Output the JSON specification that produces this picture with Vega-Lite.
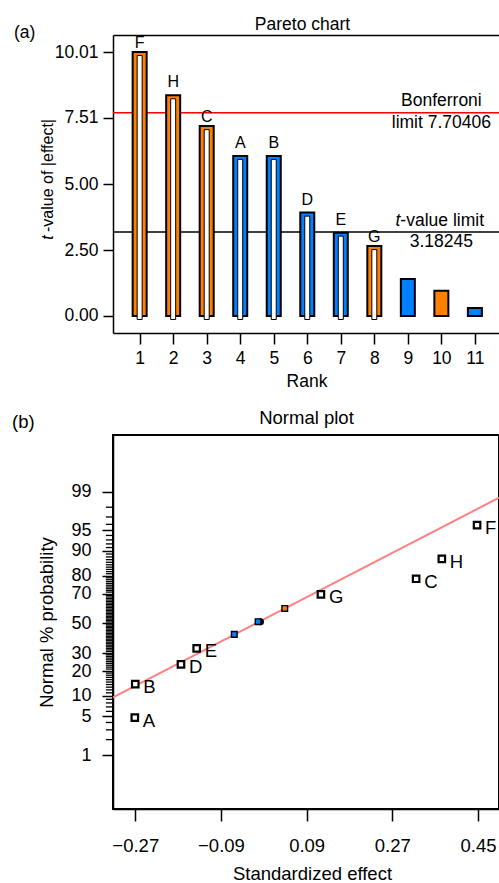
{
  "$schema": "https://vega.github.io/schema/vega-lite/v6.json",
  "padding": {"left": 11, "top": 15, "right": 0, "bottom": 0},
  "spacing": 17,
  "config": {
    "font": "Liberation Sans",
    "view": {"stroke": null},
    "axis": {"grid": false, "domainColor": "black", "domainWidth": 1.5, "tickColor": "black", "tickWidth": 1.5, "labelColor": "black", "titleColor": "black", "labelFontSize": 17.5, "titleFontSize": 17.5, "titleFontWeight": "normal", "labelFont": "Liberation Sans", "titleFont": "Liberation Sans"},
    "title": {"fontSize": 17.5, "fontWeight": "normal", "font": "Liberation Sans", "color": "black"},
    "text": {"font": "Liberation Sans", "fontSize": 17.5, "color": "black"}
  },
  "datasets": {
    "bars": [
      {"rank": 1, "t": 10.01, "label": "F", "sign": "pos"},
      {"rank": 2, "t": 8.37, "label": "H", "sign": "pos"},
      {"rank": 3, "t": 7.20, "label": "C", "sign": "pos"},
      {"rank": 4, "t": 6.07, "label": "A", "sign": "neg"},
      {"rank": 5, "t": 6.07, "label": "B", "sign": "neg"},
      {"rank": 6, "t": 3.92, "label": "D", "sign": "neg"},
      {"rank": 7, "t": 3.16, "label": "E", "sign": "neg"},
      {"rank": 8, "t": 2.65, "label": "G", "sign": "pos"},
      {"rank": 9, "t": 1.40, "label": "", "sign": "neg"},
      {"rank": 10, "t": 0.96, "label": "", "sign": "pos"},
      {"rank": 11, "t": 0.30, "label": "", "sign": "neg"}
    ],
    "limits": [
      {"name": "Bonferroni", "value": 7.70406, "prefix": "", "above": "Bonferroni", "below": "limit 7.70406"},
      {"name": "t-value limit", "value": 3.18245, "prefix": "t", "above": "-value limit", "below": "3.18245"}
    ],
    "points": [
      {"label": "A", "effect": -0.271, "z": -1.666, "sign": "neg"},
      {"label": "B", "effect": -0.270, "z": -1.072, "sign": "neg"},
      {"label": "D", "effect": -0.174, "z": -0.724, "sign": "neg"},
      {"label": "E", "effect": -0.141, "z": -0.442, "sign": "neg"},
      {"label": "", "effect": -0.062, "z": -0.194, "sign": "neg"},
      {"label": "", "effect": -0.012, "z": 0.030, "sign": "neg"},
      {"label": "", "effect": 0.044, "z": 0.265, "sign": "pos"},
      {"label": "G", "effect": 0.120, "z": 0.512, "sign": "pos"},
      {"label": "C", "effect": 0.320, "z": 0.789, "sign": "pos"},
      {"label": "H", "effect": 0.374, "z": 1.142, "sign": "pos"},
      {"label": "F", "effect": 0.448, "z": 1.737, "sign": "pos"}
    ],
    "center": [{"effect": -0.007, "z": 0.03}],
    "fit": [
      {"effect": -0.3168, "z": -1.307},
      {"effect": 0.4941, "z": 2.221}
    ],
    "minorticks": [
      {"z": -2.0537}, {"z": -1.8808}, {"z": -1.7507}, {"z": -1.5548}, {"z": -1.4758}, {"z": -1.4051}, {"z": -1.3408},
      {"z": -1.2265}, {"z": -1.175}, {"z": -1.1264}, {"z": -1.0803}, {"z": -1.0364}, {"z": -0.9945}, {"z": -0.9542}, {"z": -0.9154}, {"z": -0.8779},
      {"z": -0.8064}, {"z": -0.7722}, {"z": -0.7388}, {"z": -0.7063}, {"z": -0.6745}, {"z": -0.6433}, {"z": -0.6128}, {"z": -0.5828}, {"z": -0.5534},
      {"z": -0.4959}, {"z": -0.4677}, {"z": -0.4399}, {"z": -0.4125}, {"z": -0.3853}, {"z": -0.3585}, {"z": -0.3319}, {"z": -0.3055}, {"z": -0.2793},
      {"z": -0.2533}, {"z": -0.2275}, {"z": -0.2019}, {"z": -0.1764}, {"z": -0.151}, {"z": -0.1257}, {"z": -0.1004}, {"z": -0.0753}, {"z": -0.0502}, {"z": -0.0251},
      {"z": 0.0251}, {"z": 0.0502}, {"z": 0.0753}, {"z": 0.1004}, {"z": 0.1257}, {"z": 0.151}, {"z": 0.1764}, {"z": 0.2019}, {"z": 0.2275}, {"z": 0.2533},
      {"z": 0.2793}, {"z": 0.3055}, {"z": 0.3319}, {"z": 0.3585}, {"z": 0.3853}, {"z": 0.4125}, {"z": 0.4399}, {"z": 0.4677}, {"z": 0.4959},
      {"z": 0.5534}, {"z": 0.5828}, {"z": 0.6128}, {"z": 0.6433}, {"z": 0.6745}, {"z": 0.7063}, {"z": 0.7388}, {"z": 0.7722}, {"z": 0.8064},
      {"z": 0.8779}, {"z": 0.9154}, {"z": 0.9542}, {"z": 0.9945}, {"z": 1.0364}, {"z": 1.0803}, {"z": 1.1264}, {"z": 1.175}, {"z": 1.2265},
      {"z": 1.3408}, {"z": 1.4051}, {"z": 1.4758}, {"z": 1.5548}, {"z": 1.7507}, {"z": 1.8808}, {"z": 2.0537}
    ]
  },
  "vconcat": [
    {
      "title": {"text": "(a)", "anchor": "start", "frame": "bounds", "dx": -25, "dy": 30, "fontSize": 17.5},
      "width": 387,
      "height": 298,
      "resolve": {"axis": {"x": "independent", "y": "independent"}},
      "layer": [
        {
          "data": {"name": "limits"},
          "mark": {"type": "rule", "strokeWidth": 1.5},
          "encoding": {
            "y": {"field": "value", "type": "quantitative", "scale": {"domain": [-0.645, 10.655], "nice": false, "zero": false}, "axis": null},
            "stroke": {"field": "name", "type": "nominal", "scale": {"domain": ["Bonferroni", "t-value limit"], "range": ["#FF0000", "#000000"]}, "legend": null}
          }
        },
        {
          "data": {"name": "bars"},
          "mark": {"type": "bar", "width": 14, "stroke": "black", "strokeWidth": 2},
          "encoding": {
            "x": {"field": "rank", "type": "quantitative", "scale": {"domain": [0.354, 11.6], "nice": false, "zero": false},
                  "axis": {"orient": "bottom", "values": [1, 2, 3, 4, 5, 6, 7, 8, 9, 10, 11], "format": "d", "labelOverlap": false, "tickSize": 11, "labelPadding": 5, "title": "Rank", "titlePadding": 6}},
            "y": {"field": "t", "type": "quantitative", "scale": {"domain": [-0.645, 10.655], "nice": false, "zero": false},
                  "axis": {"orient": "left", "values": [0, 2.5, 5, 7.51, 10.01], "format": ".2f", "tickSize": 10, "labelPadding": 5, "title": "-value of |effect|", "titleFontSize": 16, "titleX": -66, "titleY": 140, "titleBaseline": "middle"}},
            "fill": {"field": "sign", "type": "nominal", "scale": {"domain": ["pos", "neg"], "range": ["#FF8000", "#0080FF"]}, "legend": null}
          }
        },
        {
          "data": {"name": "bars"},
          "transform": [{"filter": "datum.label != ''"}],
          "mark": {"type": "bar", "width": 5, "fill": "white", "stroke": "black", "strokeWidth": 1, "yOffset": 3.5, "y2Offset": -3.5},
          "encoding": {
            "x": {"field": "rank", "type": "quantitative", "scale": {"domain": [0.354, 11.6], "nice": false, "zero": false}, "axis": null},
            "y": {"field": "t", "type": "quantitative", "scale": {"domain": [-0.645, 10.655], "nice": false, "zero": false},
                  "axis": {"orient": "left", "title": "t", "titleFontStyle": "italic", "titleFontSize": 16, "titleX": -66, "titleY": 202, "titleBaseline": "middle", "labels": false, "ticks": false, "domain": false}}
          }
        },
        {
          "data": {"name": "bars"},
          "transform": [{"filter": "indexof(['H','A','B','D','E'], datum.label) >= 0"}],
          "mark": {"type": "text", "dy": -8, "baseline": "alphabetic", "align": "center", "fontSize": 16},
          "encoding": {
            "x": {"field": "rank", "type": "quantitative", "scale": {"domain": [0.354, 11.6], "nice": false, "zero": false},
                  "axis": {"orient": "top", "domain": true, "ticks": false, "labels": false, "title": "Pareto chart", "titlePadding": 6, "titleBaseline": "alphabetic", "titleX": 189}},
            "y": {"field": "t", "type": "quantitative", "scale": {"domain": [-0.645, 10.655], "nice": false, "zero": false}, "axis": null},
            "text": {"field": "label"}
          }
        },
        {
          "data": {"name": "bars"},
          "transform": [{"filter": "indexof(['F','C','G'], datum.label) >= 0"}],
          "mark": {"type": "text", "dy": -4, "baseline": "alphabetic", "align": "center", "fontSize": 16},
          "encoding": {
            "x": {"field": "rank", "type": "quantitative", "scale": {"domain": [0.354, 11.6], "nice": false, "zero": false}, "axis": null},
            "y": {"field": "t", "type": "quantitative", "scale": {"domain": [-0.645, 10.655], "nice": false, "zero": false}, "axis": null},
            "text": {"field": "label"}
          }
        },
        {
          "data": {"name": "limits"},
          "transform": [{"filter": "datum.name == 'Bonferroni'"}],
          "mark": {"type": "text", "dy": -7, "baseline": "alphabetic", "align": "center"},
          "encoding": {
            "x": {"datum": 10, "type": "quantitative", "axis": null},
            "y": {"field": "value", "type": "quantitative", "axis": null},
            "text": {"field": "above"}
          }
        },
        {
          "data": {"name": "limits"},
          "mark": {"type": "text", "dy": 15, "baseline": "alphabetic", "align": "center"},
          "encoding": {
            "x": {"datum": 10, "type": "quantitative", "axis": null},
            "y": {"field": "value", "type": "quantitative", "axis": null},
            "text": {"field": "below"}
          }
        },
        {
          "data": {"name": "limits"},
          "transform": [{"filter": "datum.name == 't-value limit'"}],
          "mark": {"type": "text", "dy": -6, "dx": -41, "baseline": "alphabetic", "align": "left"},
          "encoding": {
            "x": {"datum": 10, "type": "quantitative", "axis": null},
            "y": {"field": "value", "type": "quantitative", "axis": null},
            "text": {"field": "above"}
          }
        },
        {
          "data": {"name": "limits"},
          "transform": [{"filter": "datum.name == 't-value limit'"}],
          "mark": {"type": "text", "dy": -6, "dx": -41, "baseline": "alphabetic", "align": "right", "fontStyle": "italic"},
          "encoding": {
            "x": {"datum": 10, "type": "quantitative", "axis": null},
            "y": {"field": "value", "type": "quantitative", "axis": null},
            "text": {"field": "prefix"}
          }
        }
      ]
    },
    {
      "title": {"text": "(b)", "anchor": "start", "frame": "bounds", "dx": -25, "dy": 27, "fontSize": 18.5},
      "width": 386,
      "height": 374,
      "view": {"stroke": "black", "strokeWidth": 2},
      "resolve": {"axis": {"x": "independent", "y": "independent"}},
      "layer": [
        {
          "data": {"name": "fit"},
          "mark": {"type": "line", "color": "#FF8080", "strokeWidth": 2, "clip": true},
          "encoding": {
            "x": {"field": "effect", "type": "quantitative", "scale": {"domain": [-0.3168, 0.4941], "nice": false, "zero": false},
                  "axis": {"orient": "bottom", "values": [-0.27, -0.09, 0.09, 0.27, 0.45], "format": ".2f", "tickSize": 12, "labelPadding": 15, "labelFontSize": 18.5, "title": "Standardized effect", "titleFontSize": 18.5, "titlePadding": 10, "titleX": 199}},
            "y": {"field": "z", "type": "quantitative", "scale": {"domain": [-3.28, 3.33], "nice": false, "zero": false},
                  "axis": {"orient": "left", "values": [-2.3263, -1.6449, -1.2816, -0.8416, -0.5244, 0, 0.5244, 0.8416, 1.2816, 1.6449, 2.3263],
                           "labelExpr": "datum.value < -2 ? '1' : datum.value < -1.5 ? '5' : datum.value < -1 ? '10' : datum.value < -0.7 ? '20' : datum.value < -0.4 ? '30' : datum.value < 0.3 ? '50' : datum.value < 0.6 ? '70' : datum.value < 1 ? '80' : datum.value < 1.5 ? '90' : datum.value < 2 ? '95' : '99'",
                           "labelOverlap": false, "labelBound": false, "tickSize": 11, "labelPadding": 11, "labelFontSize": 18, "title": "Normal % probability", "titleFontSize": 18.5, "titleX": -67, "titleBaseline": "middle"}}
          }
        },
        {
          "data": {"name": "minorticks"},
          "mark": {"type": "rule", "color": "#000000", "strokeWidth": 1.3, "opacity": 1, "clip": false},
          "encoding": {
            "x": {"datum": -0.3318, "type": "quantitative", "axis": null},
            "x2": {"datum": -0.3168},
            "y": {"field": "z", "type": "quantitative", "axis": null}
          }
        },
        {
          "data": {"name": "center"},
          "mark": {"type": "point", "shape": "circle", "filled": true, "fill": "black", "size": 50, "opacity": 1},
          "encoding": {
            "x": {"field": "effect", "type": "quantitative", "axis": null},
            "y": {"field": "z", "type": "quantitative", "axis": null}
          }
        },
        {
          "data": {"name": "points"},
          "transform": [{"filter": "datum.label != ''"}],
          "mark": {"type": "point", "shape": "square", "filled": true, "fill": "white", "stroke": "black", "strokeWidth": 2.2, "size": 42, "opacity": 1},
          "encoding": {
            "x": {"field": "effect", "type": "quantitative",
                  "axis": {"orient": "top", "domain": false, "ticks": false, "labels": false, "title": "Normal plot", "titleFontSize": 18.5, "titlePadding": 12, "titleBaseline": "alphabetic"}},
            "y": {"field": "z", "type": "quantitative", "axis": null}
          }
        },
        {
          "data": {"name": "points"},
          "transform": [{"filter": "datum.label == ''"}],
          "mark": {"type": "point", "shape": "square", "filled": true, "stroke": "black", "strokeWidth": 1.4, "size": 32, "opacity": 1},
          "encoding": {
            "x": {"field": "effect", "type": "quantitative", "axis": null},
            "y": {"field": "z", "type": "quantitative", "axis": null},
            "fill": {"field": "sign", "type": "nominal", "scale": {"domain": ["pos", "neg"], "range": ["#FF8000", "#0080FF"]}, "legend": null}
          }
        },
        {
          "data": {"name": "points"},
          "transform": [{"filter": "datum.label != ''"}],
          "mark": {"type": "text", "align": "left", "baseline": "alphabetic", "dx": 8, "dy": 9, "fontSize": 18.5},
          "encoding": {
            "x": {"field": "effect", "type": "quantitative", "axis": null},
            "y": {"field": "z", "type": "quantitative", "axis": null},
            "text": {"field": "label"}
          }
        }
      ]
    }
  ]
}
